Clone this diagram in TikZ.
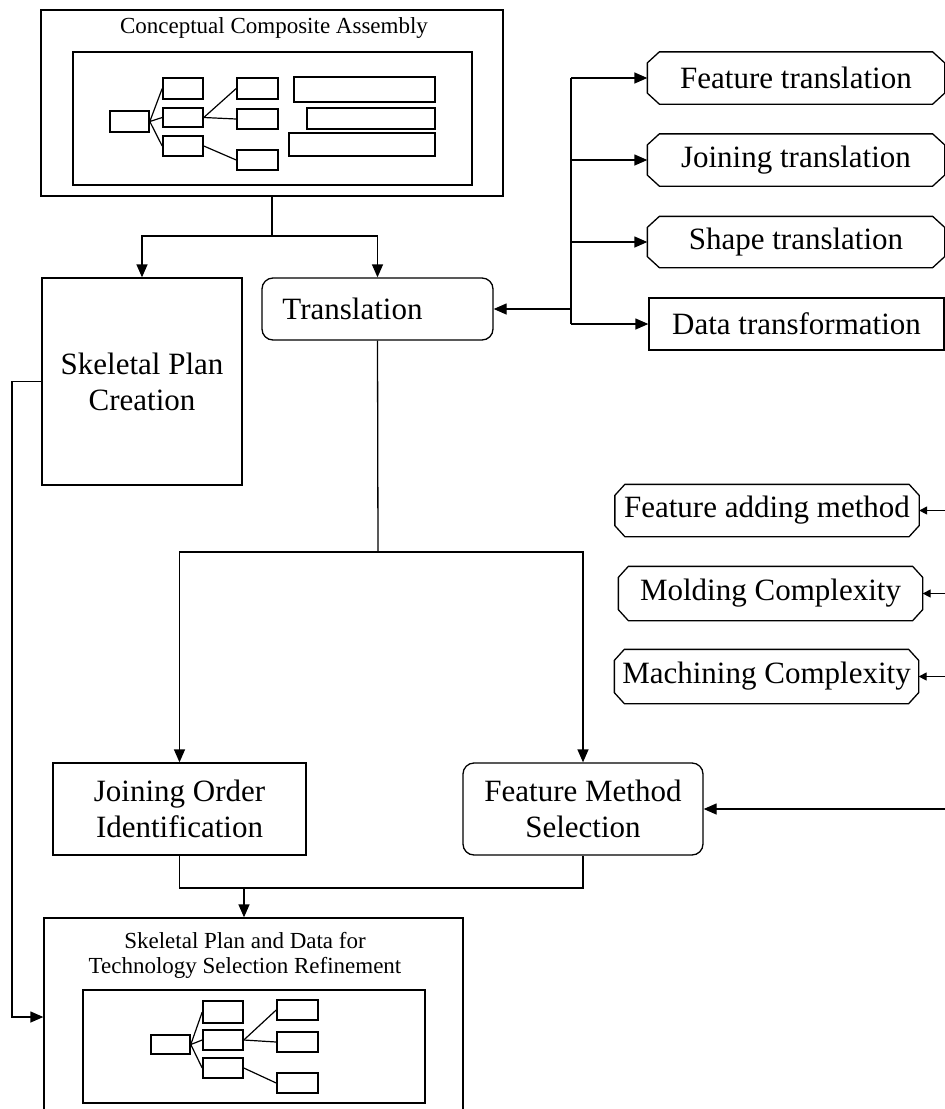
\documentclass[tikz,border=0pt]{standalone}
\usepackage{fontspec}
\setmainfont{Liberation Serif}
\usetikzlibrary{arrows.meta,calc}
\newcommand\octframe[3]{\draw ($(#1.north west)+(#2,0)$) -- ($(#1.north east)+(-#2,0)$) -- ($(#1.north east)+(0,#3)$) -- ($(#1.south east)+(0,-#3)$) -- ($(#1.south east)+(-#2,0)$) -- ($(#1.south west)+(#2,0)$) -- ($(#1.south west)+(0,-#3)$) -- ($(#1.north west)+(0,#3)$) -- cycle;}
\begin{document}
\begin{tikzpicture}[x=1pt,y=-1pt,line width=1.3pt,
  box/.style={draw,rectangle,inner sep=0pt},
  rbox/.style={draw,rectangle,rounded corners=11pt,inner sep=0pt},
  oct/.style={rectangle,inner sep=0pt},
  big/.style={font=\fontsize{31}{36}\selectfont,align=center},
  small/.style={font=\fontsize{23}{25}\selectfont,align=center},
  tb/.style={draw,rectangle,inner sep=0pt,line width=1.6pt},
  tl/.style={line width=1.2pt},
  arr/.style={-{Triangle[length=13pt,width=11pt]}},
  sarr/.style={-{Triangle[length=8pt,width=8pt]}}]
\useasboundingbox (0,0) rectangle (945,1109);
\fill[white] (0,0) rectangle (945,1109);
\clip (0,0) rectangle (945,1109);

% top box
\node[box,minimum width=462pt,minimum height=186pt] (cca) at (272,103) {};
\node[small] (ccat) at (274,28) {Conceptual Composite Assembly};
\node[box,minimum width=399pt,minimum height=133pt] (cin) at (272.5,118.5) {};
\node[tb,minimum width=39pt,minimum height=21pt] (t0) at (129.5,121.5) {};
\node[tb,minimum width=40pt,minimum height=21pt] (t21) at (183,88.5) {};
\node[tb,minimum width=40pt,minimum height=19pt] (t22) at (183,117.5) {};
\node[tb,minimum width=40pt,minimum height=20pt] (t23) at (183,146) {};
\node[tb,minimum width=41pt,minimum height=21pt] (t31) at (257.5,88.5) {};
\node[tb,minimum width=41pt,minimum height=20pt] (t32) at (257.5,119) {};
\node[tb,minimum width=41pt,minimum height=20pt] (t33) at (257.5,160) {};
\node[tb,minimum width=141pt,minimum height=25pt] (tb1) at (364.5,89.5) {};
\node[tb,minimum width=128pt,minimum height=21pt] (tb2) at (371,118.5) {};
\node[tb,minimum width=146pt,minimum height=23pt] (tb3) at (362,144.5) {};
\draw[tl] (t0.east) -- (t21.west);
\draw[tl] (t0.east) -- (t22.west);
\draw[tl] (t0.east) -- (t23.west);
\draw[tl] (t22.east) -- (t31.west);
\draw[tl] (t22.east) -- (t32.west);
\draw[tl] (t23.east) -- (t33.west);

% second row
\node[box,minimum width=200pt,minimum height=207pt,big] (spc) at (142,381.5) {Skeletal Plan\\Creation};
\node[rbox,minimum width=231pt,minimum height=62pt,big] (tr) at (377.5,309) {Translation\hspace{50pt}};

% right octagons
\node[oct,minimum width=296pt,minimum height=51pt,big] (ft) at (796,78) {Feature translation};
\node[oct,minimum width=296pt,minimum height=51pt,big] (jt) at (796,160) {Joining translation};
\node[oct,minimum width=296pt,minimum height=50pt,big] (st) at (796,242) {Shape translation};
\node[box,minimum width=295pt,minimum height=52pt,big] (dt) at (796.5,324) {Data transformation};
\octframe{ft}{12}{11}
\octframe{jt}{12}{11}
\octframe{st}{12}{11}

\node[oct,minimum width=303pt,minimum height=51pt,big] (fam) at (767,510.5) {Feature adding method};
\node[oct,minimum width=303pt,minimum height=53pt,big] (mc) at (770.5,593.5) {Molding Complexity};
\node[oct,minimum width=303pt,minimum height=53pt,big] (mac) at (766.5,676.5) {Machining Complexity};
\octframe{fam}{10}{11}
\octframe{mc}{10}{11}
\octframe{mac}{10}{11}

% third row
\node[box,minimum width=253pt,minimum height=92pt,big] (joi) at (179.5,809) {Joining Order\\Identification};
\node[rbox,minimum width=240pt,minimum height=92pt,big] (fms) at (583,809) {Feature Method\\Selection};

% bottom box
\node[box,minimum width=419pt,minimum height=194pt] (spd) at (253.5,1015) {};
\node[small] (spdt) at (245,955) {Skeletal Plan and Data for\\Technology Selection Refinement};
\node[box,minimum width=342pt,minimum height=113pt] (sin) at (254,1046.5) {};
\node[tb,minimum width=39pt,minimum height=19pt] (b0) at (170.5,1044.5) {};
\node[tb,minimum width=40pt,minimum height=22pt] (b21) at (223,1012) {};
\node[tb,minimum width=40pt,minimum height=20pt] (b22) at (223,1040) {};
\node[tb,minimum width=40pt,minimum height=20pt] (b23) at (223,1068) {};
\node[tb,minimum width=41pt,minimum height=20pt] (b31) at (297.5,1010) {};
\node[tb,minimum width=41pt,minimum height=20pt] (b32) at (297.5,1042) {};
\node[tb,minimum width=41pt,minimum height=20pt] (b33) at (297.5,1083) {};
\draw[tl] (b0.east) -- (b21.west);
\draw[tl] (b0.east) -- (b22.west);
\draw[tl] (b0.east) -- (b23.west);
\draw[tl] (b22.east) -- (b31.west);
\draw[tl] (b22.east) -- (b32.west);
\draw[tl] (b23.east) -- (b33.west);

% connectors
\coordinate (j1) at (272,236);
\draw (cca.south) -- (j1);
\draw[arr] (j1) -| (spc.north);
\draw[arr] (j1) -| (tr.north);

\coordinate (bt) at (571,78);
\coordinate (bb) at (571,324);
\coordinate (bm) at (571,309);
\draw (bt) -- (bb);
\draw[arr] (bt) -- (ft.west);
\draw[arr] (bt |- jt.west) -- (jt.west);
\draw[arr] (bt |- st.west) -- (st.west);
\draw[arr] (bb) -- (dt.west);
\draw[arr] (bm) -- (tr.east);

\coordinate (j2) at (378,552);
\draw (tr.south) -- (j2);
\draw[arr] (j2) -| (joi.north);
\draw[arr] (j2) -| (fms.north);

\coordinate (j3) at (244,888);
\draw (joi.south) |- (j3) -| (fms.south);
\draw[arr] (j3) -- (j3 |- spd.north);

\coordinate (l2) at (12,1017);
\draw[arr] (spc.west) -| (l2) -- (l2 -| spd.west);

\coordinate (r1) at (946,809);
\draw[arr] (r1) -- (fms.east);
\draw[sarr] (fam.east -| r1) -- (fam.east);
\draw[sarr] (mc.east -| r1) -- (mc.east);
\draw[sarr] (mac.east -| r1) -- (mac.east);
\end{tikzpicture}
\end{document}
